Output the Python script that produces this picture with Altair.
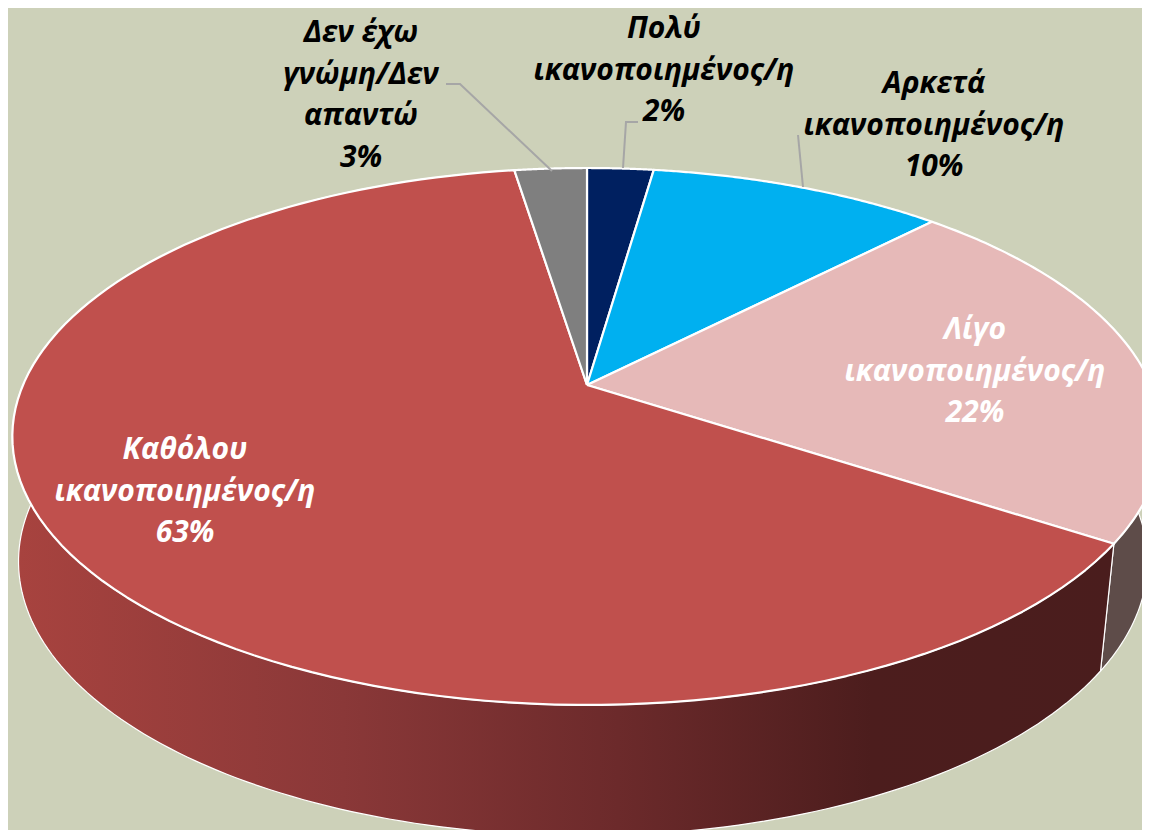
import numpy as np
import pandas as pd
import altair as alt

names = ["Πολύ\nικανοποιημένος/η\n2%", "Αρκετά\nικανοποιημένος/η\n10%", "Λίγο\nικανοποιημένος/η\n22%",
         "Καθόλου\nικανοποιημένος/η\n63%", "Δεν έχω\nγνώμη/Δεν\nαπαντώ\n3%"]
values = [2.25, 10.0, 22.0, 63.3, 2.45]
colors = ["#002060", "#00b0f0", "#e6b9b8", "#c0504d", "#7f7f7f"]
text_colors = ["#000000", "#000000", "#ffffff", "#ffffff", "#000000"]
label_x = [664, 934, 975, 185, 361]
label_y = [29, 84, 330, 450, 33]
leaders = [([638, 626, 623], [122, 122, 168]),
           ([798, 803], [135, 187]),
           ([446, 460, 552], [84, 84, 171])]

BG = "#cdd1b9"
XD, YD = [8, 1142], [830, 8]
x_enc = alt.X("x:Q", scale=alt.Scale(domain=XD, nice=False, zero=False), axis=None)
y_enc = alt.Y("y:Q", scale=alt.Scale(domain=YD, nice=False, zero=False), axis=None)


def project(a, cx, cy, A, B, k=0.1918):
    u, v = np.sin(a), np.cos(a)
    d = 1 + k * v
    return cx + A * u / d, cy - B * v / d


def top(a):
    return project(a, 587, 385, 564, 258.6)


def bottom(a):
    return project(a, 583, 509, 554, 264)


def poly(xs, ys, fill, stroke="#ffffff", width=2.2):
    xs = list(xs) + [xs[0]]
    ys = list(ys) + [ys[0]]
    df = pd.DataFrame({"x": xs, "y": ys, "i": range(len(xs))})
    return alt.Chart(df).mark_line(fill=fill, stroke=stroke, strokeWidth=width, clip=True,
                                   strokeJoin="round", interpolate="linear").encode(
        x=x_enc, y=y_enc, order="i:Q")


edges = np.cumsum([0] + values) / sum(values) * 2 * np.pi
layers = []


def wall(a0, a1, fill):
    t = np.linspace(a0, a1, 200)
    tx, ty = top(t)
    bx, by = bottom(t)
    return poly(np.r_[tx, bx[::-1]], np.r_[ty, by[::-1]], fill, width=1.2)


grad = alt.Gradient(gradient="linear", x1=0, x2=1, y1=0, y2=0, stops=[
    alt.GradientStop(offset=0.0, color="#a8433f"),
    alt.GradientStop(offset=0.3, color="#8a3838"),
    alt.GradientStop(offset=0.55, color="#6c2a2b"),
    alt.GradientStop(offset=0.78, color="#4c1d1d"),
    alt.GradientStop(offset=1.0, color="#4a1d1d"),
])
layers.append(wall(edges[2], edges[3], "#5e4c49"))
layers.append(wall(edges[3], edges[4], grad))

for i in range(len(values)):
    t = np.linspace(edges[i], edges[i + 1], 120)
    ax, ay = top(t)
    layers.append(poly(np.r_[587, ax], np.r_[385, ay], colors[i]))

for lx, ly in leaders:
    df = pd.DataFrame({"x": lx, "y": ly, "i": range(len(lx))})
    layers.append(alt.Chart(df).mark_line(color="#a6a6a6", strokeWidth=2).encode(x=x_enc, y=y_enc, order="i:Q"))

labels = pd.DataFrame({"x": label_x, "y": label_y, "t": names, "c": text_colors})
for c, g in labels.groupby("c"):
    layers.append(alt.Chart(g).mark_text(font="Open Sans", fontSize=30, fontWeight="bold", fontStyle="italic",
                                         lineBreak="\n", lineHeight=41.5, align="center", baseline="middle",
                                         color=c).encode(x=x_enc, y=y_enc, text="t:N"))

chart = alt.layer(*layers).properties(
    width=1134, height=822, background=BG, padding=0,
    autosize=alt.AutoSizeParams(type="none"),
).configure_view(stroke=None)

chart.save("out.html", embed_options={"renderer": "svg", "actions": False})
